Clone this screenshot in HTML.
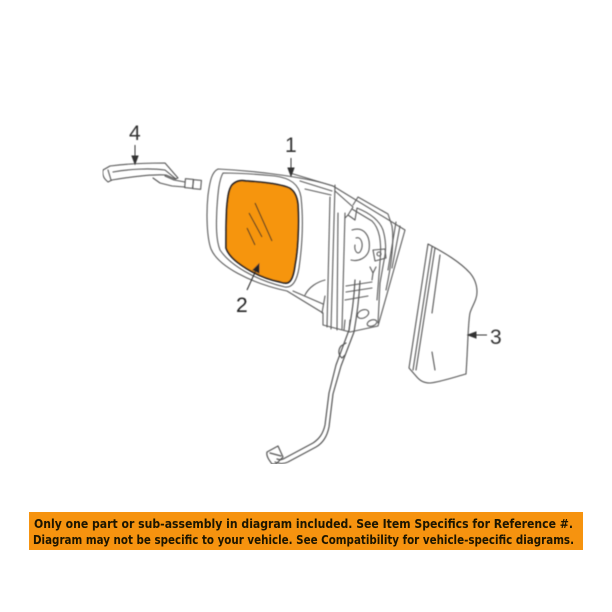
<!DOCTYPE html>
<html>
<head>
<meta charset="utf-8">
<style>
html,body{margin:0;padding:0;background:#fff;width:612px;height:612px;overflow:hidden}
svg{display:block}
</style>
</head>
<body>
<svg width="612" height="612" viewBox="0 0 612 612" xmlns="http://www.w3.org/2000/svg">
<defs>
<filter id="b" x="0" y="0" width="100%" height="100%"><feGaussianBlur stdDeviation="0.45"/></filter>
<filter id="t" x="-5%" y="-20%" width="110%" height="140%"><feGaussianBlur stdDeviation="0.3"/></filter>
</defs>
<rect width="612" height="612" fill="#fff"/>
<g filter="url(#b)">
<!-- housing -->
<g fill="none" stroke="#5c5c5c" stroke-width="1.1" stroke-linejoin="round" stroke-linecap="round">
<path d="M218 169 C212 172 210 180 208 195 C206 215 207 238 211 249 C218 266 250 283 287 291 L323 313 L323 325 L350 332 L378 326 L405 230 L333 186 C310 178 260 171 218 169Z"/>
<path d="M223 173 C219 180 218 192 217 207 C216 225 216 240 220 250 C230 265 255 280 285 287 C293 288 297 280 299 268 C303 240 303 215 301 197 C299 184 290 178 275 176 C255 174 238 173 223 173Z"/>
<path d="M290 173 L333 186 M300 181 L332 191 M305 189 L331 195"/>
<path d="M330 197 L327 327 M335 185 L331 329 M338 213 L337 330 M345 213 L342 329"/>
<path d="M335 191 L353 207 L348 215 L355 220 L357 208 C372 214 380 222 383 230 C386 240 386 250 385 255 L380 283 L378 323"/>
<path d="M353 205 L358 197 L388 214 L392 226 C394 240 392 262 386 290"/>
<path d="M348 215 L345 218 M352 209 L372 221 C379 228 382 240 380 262 L377 300"/>
<path d="M396 222 L388 270 M400 226 L392 268"/>
<path d="M352 230 C364 226 371 236 369 250 C367 258 358 262 351 260 M356 238 C362 236 364 246 360 252 C357 255 354 250 355 245"/>
<path d="M373 250 L385 249 L386 258 L375 261Z"/>
<circle cx="379" cy="254" r="2"/>
<path d="M370 267 L373 273 L376 267 M373 273 L372 280"/>
<path d="M346 286 L372 282 M346 292 L372 288 M345 300 L368 296"/>
<path d="M305 295 C309 287 317 282 325 280 M293 291 L323 304 M325 296 L322 313"/>
<ellipse cx="363" cy="314" rx="6" ry="4" transform="rotate(-25 363 314)"/>
<ellipse cx="372" cy="323" rx="5" ry="3" transform="rotate(-20 372 323)"/>
<path d="M345 320 L344 330 M350 320 L349 331"/>
</g>
<!-- glass -->
<path d="M232 185 C236 181 240 180 246 181 C262 182 278 184 287 187 C293 189 297 194 298 205 C299 225 298 250 295 265 C294 273 292 280 289 282 C287 284 283 283 280 282 C265 279 250 272 237 262 C232 258 228 254 226 248 C226 235 226 215 227 205 C228 195 229 189 232 185Z" fill="#f6950e" stroke="#1c1c1c" stroke-width="1.7"/>
<g stroke="#4a3a20" stroke-width="1.1" fill="none">
<path d="M255 203 L272 241 M249 213 L262 237 M247 228 L255 245"/>
</g>
<!-- wire -->
<g fill="none" stroke="#555" stroke-width="1.2" stroke-linecap="round" stroke-linejoin="round">
<path d="M355 280 C354 300 352 312 349 330 L336 365 L329 393 L325 425 C323 434 319 439 313 443 L285 458 C282 460 280 460 277 459"/>
<path d="M360 281 C359 300 357 315 354 332 L341 366 L333 394 L329 427 C327 437 323 443 316 447 L288 462 C284 464 279 464 275 462"/>
<path d="M341 346 C338 350 338 355 342 358 L345 355 M341 346 L346 343"/>
<path d="M267 452 L278 446 L283 457 L276 464 L272 464 C269 460 266 456 267 452Z M270 453 L281 456"/>
</g>
<!-- part 4 -->
<g fill="none" stroke="#555" stroke-width="1.1" stroke-linecap="round" stroke-linejoin="round">
<path d="M103 170 L110 166 C125 164 145 163 165 163 L178 178 L175 179 L166 175 C150 174 130 177 112 180 L108 182 C103 178 102 174 103 170Z"/>
<path d="M108 170 L111 180 M113 172 C130 169 150 168 165 170 L176 179"/>
<path d="M153 178 L160 183 L172 186 L185 187 M165 176 L174 180 L185 182"/>
<rect x="185" y="179" width="8" height="9" transform="rotate(5 189 184)"/>
<rect x="193" y="180" width="8" height="9" transform="rotate(5 197 185)"/>
</g>
<!-- part 3 -->
<g fill="none" stroke="#555" stroke-width="1.1" stroke-linecap="round" stroke-linejoin="round">
<path d="M428 244 C445 253 460 262 470 273 C475 279 477 285 477 292 C477 300 472 306 470 313 C468 322 468 345 466 374 C455 377 440 382 430 383 C424 383 420 381 416 376 L409 368 Z"/>
<path d="M435 248 L416 370 M440 255 L432 313 M432 352 L435 370 M432 247 L413 370"/>
</g>
<!-- arrows -->
<g stroke="#333" fill="#333" stroke-width="1">
<path d="M135 145 V161" fill="none"/><path d="M135 164 L132 156 H138Z"/>
<path d="M291 158 V173" fill="none"/><path d="M291 176 L288 168 H294Z"/>
<path d="M487 335 H471" fill="none"/><path d="M468 335 L476 332 V338Z"/>
<path d="M247 290 L257 268" fill="none" stroke="#222"/><path d="M259 264 L259 273 L253 270Z" fill="#222"/>
</g>
<g font-family="'Liberation Sans',sans-serif" font-size="21" fill="#333">
<text x="129" y="140">4</text>
<text x="285" y="152">1</text>
<text x="490" y="344">3</text>
<text x="236" y="312" fill="#222">2</text>
</g>
</g>
<!-- banner -->
<rect x="29" y="512" width="554" height="38" fill="#f6930f"/>
<g font-family="'DejaVu Sans','Liberation Sans',sans-serif" font-weight="700" font-size="12.5" fill="#1d1405" filter="url(#t)">
<text x="34" y="528" textLength="539" lengthAdjust="spacingAndGlyphs">Only one part or sub-assembly in diagram included. See Item Specifics for Reference #.</text>
<text x="33" y="544" textLength="541" lengthAdjust="spacingAndGlyphs">Diagram may not be specific to your vehicle. See Compatibility for vehicle-specific diagrams.</text>
</g>
</svg>
</body>
</html>
